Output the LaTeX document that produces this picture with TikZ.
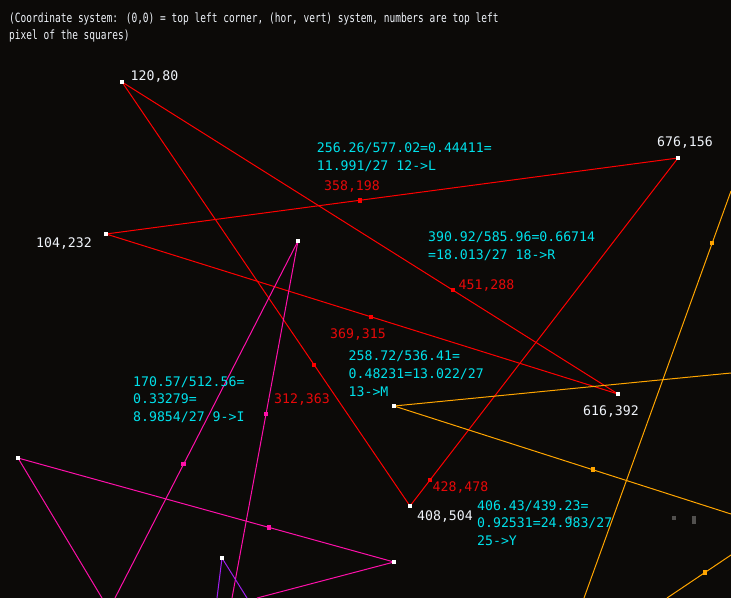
\documentclass[tikz,border=0pt]{standalone}
\usepackage{fontspec}
\newfontfamily\monofont{DejaVu Sans Mono}
\newfontfamily\hdrfont[FakeStretch=0.75]{DejaVu Sans Mono}
\definecolor{bgc}{RGB}{12,10,8}
\definecolor{redline}{RGB}{255,0,0}
\definecolor{redtxt}{RGB}{232,8,8}
\definecolor{cyantxt}{RGB}{0,225,235}
\definecolor{pinkline}{RGB}{255,16,170}
\definecolor{purpline}{RGB}{160,32,240}
\definecolor{orangeline}{RGB}{255,165,0}
\definecolor{whitetxt}{RGB}{240,244,250}
\definecolor{greysq}{RGB}{82,80,78}
\pgfdeclarelayer{bg}
\pgfdeclarelayer{lines}
\pgfsetlayers{bg,lines,main}
\newcommand\firstline{\rule{0pt}{10.5pt}}
\begin{document}
\begin{tikzpicture}[x=1pt,y=-1pt,
  conn/.style={line width=1pt},
  vtx/.style={rectangle,fill=white,draw=none,minimum size=4.5pt,inner sep=0pt,outer sep=0pt},
  mrk/.style={rectangle,fill=#1,draw=none,minimum size=4.5pt,inner sep=0pt,outer sep=0pt},
  lbl/.style={font=\fontsize{13.2}{17.6}\selectfont\monofont,inner sep=0pt,anchor=base west},
  mlbl/.style={lbl,anchor=north west,align=left,text=cyantxt},
  hdr/.style={font=\fontsize{12.7}{17.3}\selectfont\hdrfont,inner sep=0pt,anchor=north west,align=left,text=whitetxt},
]
\begin{pgfonlayer}{bg}
\fill[bgc] (0,0) rectangle (731,598);
\end{pgfonlayer}
\useasboundingbox (0,0) rectangle (731,598);
\clip (0,0) rectangle (731,598);

% grey blocks
\fill[greysq] (672,516) rectangle (676,520);
\fill[greysq] (692,516) rectangle (696,524);
\fill[greysq] (568,516) rectangle (572,520);

% red pentagram vertices
\node[vtx] (A) at (122,82) {};
\node[vtx] (B) at (678,158) {};
\node[vtx] (C) at (106,234) {};
\node[vtx] (D) at (618,394) {};
\node[vtx] (E) at (410,506) {};

% pink / purple vertices
\node[vtx] (P1) at (18,458) {};
\node[vtx] (P2) at (394,562) {};
\node[vtx] (P3) at (298,241) {};
\node[vtx] (V) at (222,558) {};

% orange vertex
\node[vtx] (O) at (394,406) {};

% free ends
\coordinate (pe1) at (115,598);
\coordinate (pe2) at (232,598);
\coordinate (pe3) at (102,598);
\coordinate (pe4) at (257,598);
\coordinate (ve1) at (217,598);
\coordinate (ve2) at (247,598);
\coordinate (oe1) at (731,373);
\coordinate (oe2) at (731,514);
\coordinate (oe3) at (731,191);
\coordinate (oe4) at (584,598);
\coordinate (oe5) at (667,598);
\coordinate (oe6) at (731,555);

\begin{pgfonlayer}{lines}
\draw[conn,redline] (A.center) -- node[mrk=redline,pos=0.66714] (m18) {} (D.center);
\draw[conn,redline] (D.center) -- node[mrk=redline,pos=0.48231] (m13) {} (C.center);
\draw[conn,redline] (C.center) -- node[mrk=redline,pos=0.44411] (m12) {} (B.center);
\draw[conn,redline] (B.center) -- node[mrk=redline,pos=0.92531] (m25) {} (E.center);
\draw[conn,redline] (E.center) -- node[mrk=redline,pos=0.33279] (m9) {} (A.center);

\draw[conn,pinkline] (P1.center) -- node[mrk=pinkline,pos=0.667] (pm1) {} (P2.center);
\draw[conn,pinkline] (P3.center) -- node[mrk=pinkline,pos=0.625] (pm2) {} (pe1);
\draw[conn,pinkline] (P3.center) -- node[mrk=pinkline,pos=0.485] (pm3) {} (pe2);
\draw[conn,pinkline] (P1.center) -- (pe3);
\draw[conn,pinkline] (P2.center) -- (pe4);
\draw[conn,purpline] (V.center) -- (ve1);
\draw[conn,purpline] (V.center) -- (ve2);

\draw[conn,orangeline] (O.center) -- (oe1);
\draw[conn,orangeline] (O.center) -- node[mrk=orangeline,pos=0.59] (om1) {} (oe2);
\draw[conn,orangeline] (oe3) -- node[mrk=orangeline,pos=0.128] (om2) {} (oe4);
\draw[conn,orangeline] (oe5) -- node[mrk=orangeline,pos=0.594] (om3) {} (oe6);
\end{pgfonlayer}

% header
\node[hdr] (title) at (9,11.5) {\firstline(Coordinate system: (0,0) = top left corner, (hor, vert) system, numbers are top left\\pixel of the squares)};

% vertex labels
\node[lbl,text=whitetxt] (tA) at (130.5,80.7) {120,80};
\node[lbl,text=whitetxt] (tB) at (657,146.7) {676,156};
\node[lbl,text=whitetxt] (tC) at (36,247) {104,232};
\node[lbl,text=whitetxt] (tD) at (583,415) {616,392};
\node[lbl,text=whitetxt] (tE) at (417,520) {408,504};

% marker labels
\node[lbl,text=redtxt] (t12) at (324,190) {358,198};
\node[lbl,text=redtxt] (t18) at (458.5,289) {451,288};
\node[lbl,text=redtxt] (t13) at (330,338) {369,315};
\node[lbl,text=redtxt] (t9) at (274,403.3) {312,363};
\node[lbl,text=redtxt] (t25) at (432.5,491.7) {428,478};

% ratio labels
\node[mlbl] (c12) at (316.7,142.2) {\firstline 256.26/577.02=0.44411=\\11.991/27 12->L};
\node[mlbl] (c18) at (428,231.2) {\firstline 390.92/585.96=0.66714\\=18.013/27 18->R};
\node[mlbl] (c13) at (348.5,350.2) {\firstline 258.72/536.41=\\0.48231=13.022/27\\13->M};
\node[mlbl] (c9) at (133,375.5) {\firstline 170.57/512.56=\\0.33279=\\8.9854/27 9->I};
\node[mlbl] (c25) at (477,499.5) {\firstline 406.43/439.23=\\0.92531=24.983/27\\25->Y};
\end{tikzpicture}
\end{document}
